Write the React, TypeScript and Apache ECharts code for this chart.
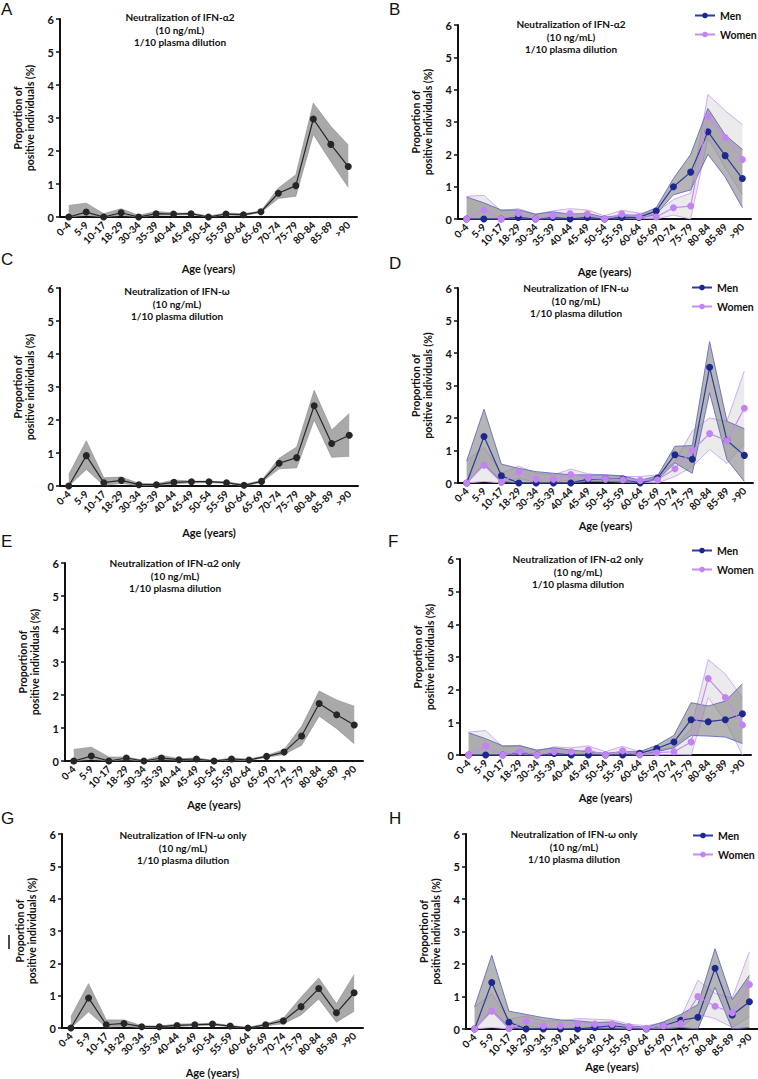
import React, { useEffect, useRef } from "react";
import * as echarts from "echarts";

const categories = ["0-4", "5-9", "10-17", "18-29", "30-34", "35-39", "40-44", "45-49", "50-54", "55-59", "60-64", "65-69", "70-74", "75-79", "80-84", "85-89", ">90"];
const yTicks = [0, 1, 2, 3, 4, 5, 6];

// Panel A
const aMean = [0, 0.15, 0, 0.13, 0, 0.1, 0.09, 0.1, 0, 0.09, 0.07, 0.16, 0.72, 0.95, 2.97, 2.2, 1.53];
const aUpper = [0.35, 0.42, 0.1, 0.25, 0.05, 0.17, 0.12, 0.12, 0.03, 0.12, 0.1, 0.18, 0.88, 1.28, 3.45, 2.75, 2.18];
const aLower = [0, 0.05, 0, 0.05, 0, 0.05, 0.06, 0.07, 0, 0.06, 0.04, 0.14, 0.56, 0.63, 2.5, 1.68, 0.9];

// Panel B
const bMen = [0, 0, 0, 0.05, 0, 0.05, 0, 0.05, 0, 0.05, 0.05, 0.25, 1.0, 1.45, 2.7, 1.96, 1.25];
const bMenUpper = [0.68, 0.5, 0.28, 0.28, 0.15, 0.22, 0.15, 0.18, 0.05, 0.12, 0.12, 0.35, 1.25, 2.0, 3.42, 2.6, 2.15];
const bMenLower = [0, 0, 0, 0, 0, 0, 0, 0, 0, 0, 0, 0.15, 0.75, 0.9, 2.0, 1.3, 0.35];
const bWomen = [0, 0.28, 0, 0.17, 0, 0.1, 0.17, 0.15, 0, 0.15, 0.07, 0.06, 0.35, 0.4, 3.17, 2.52, 1.84];
const bWomenUpper = [0.7, 0.73, 0.25, 0.32, 0.15, 0.25, 0.32, 0.28, 0.1, 0.27, 0.18, 0.2, 0.6, 0.8, 3.85, 3.35, 2.92];
const bWomenLower = [0, 0.02, 0, 0.05, 0, 0.02, 0.05, 0.05, 0, 0.05, 0.02, 0, 0.12, 0, 2.5, 1.6, 0.75];

// Panel C
const cMean = [0, 0.92, 0.1, 0.17, 0.04, 0.04, 0.11, 0.13, 0.13, 0.1, 0.02, 0.14, 0.69, 0.86, 2.43, 1.29, 1.54];
const cUpper = [0.35, 1.37, 0.25, 0.27, 0.08, 0.07, 0.18, 0.15, 0.15, 0.12, 0.05, 0.17, 0.84, 1.18, 2.9, 1.7, 2.2];
const cLower = [0, 0.5, 0.02, 0.08, 0.01, 0.02, 0.06, 0.1, 0.1, 0.08, 0, 0.11, 0.52, 0.55, 2.0, 0.87, 0.9];

// Panel D
const dMen = [0, 1.43, 0.22, 0, 0, 0, 0, 0.12, 0.12, 0.12, 0, 0.15, 0.87, 0.73, 3.56, 1.31, 0.85];
const dMenUpper = [0.68, 2.27, 0.58, 0.45, 0.35, 0.3, 0.25, 0.25, 0.25, 0.22, 0.08, 0.22, 1.13, 1.15, 4.35, 1.9, 1.67];
const dMenLower = [0, 0.58, 0.05, 0, 0, 0, 0, 0.05, 0.05, 0.05, 0, 0.1, 0.62, 0.3, 2.78, 0.72, 0.05];
const dWomen = [0, 0.55, 0.02, 0.34, 0.12, 0.12, 0.26, 0.15, 0.12, 0.1, 0.08, 0.1, 0.44, 1.0, 1.52, 1.3, 2.3];
const dWomenUpper = [0.68, 1.1, 0.3, 0.52, 0.3, 0.25, 0.43, 0.28, 0.25, 0.2, 0.2, 0.25, 0.65, 1.6, 2.0, 1.9, 3.45];
const dWomenLower = [0, 0.05, 0, 0.15, 0.02, 0.02, 0.1, 0.05, 0.05, 0.03, 0.02, 0, 0.2, 0.5, 1.03, 0.6, 1.2];

// Panel E
const eMean = [0, 0.15, 0, 0.09, 0, 0.09, 0.04, 0.06, 0, 0.06, 0.03, 0.14, 0.27, 0.76, 1.74, 1.4, 1.09];
const eUpper = [0.35, 0.42, 0.12, 0.12, 0.02, 0.17, 0.07, 0.09, 0.02, 0.09, 0.06, 0.17, 0.35, 1.05, 2.12, 1.85, 1.66];
const eLower = [0, 0.05, 0, 0.04, 0, 0.04, 0.02, 0.03, 0, 0.03, 0.01, 0.11, 0.2, 0.48, 1.36, 0.98, 0.52];

// Panel F
const fMen = [0, 0, 0, 0.08, 0, 0.05, 0, 0, 0, 0, 0.05, 0.2, 0.4, 1.08, 1.02, 1.08, 1.26];
const fMenUpper = [0.68, 0.5, 0.28, 0.28, 0.15, 0.22, 0.15, 0.1, 0.05, 0.1, 0.1, 0.3, 0.6, 1.6, 1.5, 1.65, 2.18];
const fMenLower = [0, 0, 0, 0, 0, 0, 0, 0, 0, 0, 0, 0.1, 0.22, 0.6, 0.58, 0.55, 0.35];
const fWomen = [0, 0.28, 0, 0.1, 0, 0.1, 0.1, 0.15, 0, 0.13, 0, 0.07, 0.1, 0.4, 2.34, 1.76, 0.92];
const fWomenUpper = [0.7, 0.75, 0.25, 0.3, 0.12, 0.25, 0.22, 0.28, 0.1, 0.27, 0.1, 0.15, 0.25, 0.8, 2.92, 2.48, 1.75];
const fWomenLower = [0, 0.02, 0, 0.02, 0, 0.02, 0.02, 0.05, 0, 0.03, 0, 0, 0.02, 0, 1.75, 1.05, 0];

// Panel G
const gMean = [0, 0.93, 0.1, 0.14, 0.04, 0.04, 0.08, 0.1, 0.12, 0.06, 0, 0.1, 0.22, 0.66, 1.22, 0.47, 1.09];
const gUpper = [0.35, 1.37, 0.25, 0.25, 0.07, 0.06, 0.12, 0.13, 0.15, 0.08, 0.02, 0.13, 0.3, 0.95, 1.55, 0.75, 1.65];
const gLower = [0, 0.5, 0.02, 0.06, 0.01, 0.02, 0.05, 0.07, 0.09, 0.04, 0, 0.07, 0.13, 0.4, 0.9, 0.18, 0.52];

// Panel H
const hMen = [0, 1.43, 0.21, 0, 0, 0, 0, 0.05, 0.1, 0.05, 0, 0.1, 0.27, 0.36, 1.87, 0.43, 0.84];
const hMenUpper = [0.68, 2.27, 0.55, 0.45, 0.35, 0.28, 0.25, 0.2, 0.22, 0.1, 0.05, 0.22, 0.45, 0.75, 2.47, 0.9, 1.65];
const hMenLower = [0, 0.58, 0.05, 0, 0, 0, 0, 0, 0, 0, 0, 0, 0.05, 0, 1.28, 0, 0.05];
const hWomen = [0, 0.55, 0.01, 0.25, 0.1, 0.1, 0.17, 0.15, 0.15, 0.07, 0.02, 0.1, 0.17, 1.0, 0.7, 0.5, 1.37];
const hWomenUpper = [0.68, 1.08, 0.3, 0.4, 0.25, 0.25, 0.32, 0.3, 0.28, 0.15, 0.1, 0.2, 0.35, 1.5, 1.1, 0.95, 2.38];
const hWomenLower = [0, 0.05, 0, 0.1, 0.02, 0.02, 0.05, 0.05, 0.05, 0.02, 0, 0.02, 0.05, 0.45, 0.32, 0.05, 0.38];

const titleAlpha = "Neutralization of IFN-α2\n(10 ng/mL)\n1/10 plasma dilution";
const titleOmega = "Neutralization of IFN-ω\n(10 ng/mL)\n1/10 plasma dilution";
const titleAlphaOnly = "Neutralization of IFN-α2 only\n(10 ng/mL)\n1/10 plasma dilution";
const titleOmegaOnly = "Neutralization of IFN-ω only\n(10 ng/mL)\n1/10 plasma dilution";

const FONT = "Lato, 'Open Sans', sans-serif";
const INK = "#111111";
const MEN = "#1c2790";
const MEN_EDGE = "#5f6cc0";
const WOMEN = "#c283f3";
const WOMEN_EDGE = "#cfa2f5";

type Panel = {
  letter: string;
  grid: { left: number; top: number; width: number; height: number };
  title: string;
  titleX: number;
  titleY: number;
  letterX: number;
  letterY: number;
  xNameGap: number;
  single?: { mean: number[]; upper: number[]; lower: number[] };
  sex?: {
    men: number[]; menUpper: number[]; menLower: number[];
    women: number[]; womenUpper: number[]; womenLower: number[];
    legendX: number; legendY: number;
  };
};

const panels: Panel[] = [
  { letter: "A", grid: { left: 60, top: 19, width: 297, height: 198 }, title: titleAlpha, titleX: 180, titleY: 11, letterX: 1, letterY: 1, xNameGap: 46, single: { mean: aMean, upper: aUpper, lower: aLower } },
  { letter: "B", grid: { left: 458, top: 25, width: 293, height: 194 }, title: titleAlpha, titleX: 571, titleY: 18, letterX: 389, letterY: 1, xNameGap: 47, sex: { men: bMen, menUpper: bMenUpper, menLower: bMenLower, women: bWomen, womenUpper: bWomenUpper, womenLower: bWomenLower, legendX: 689, legendY: 5 } },
  { letter: "C", grid: { left: 60, top: 288, width: 298, height: 198 }, title: titleOmega, titleX: 177, titleY: 285, letterX: 1, letterY: 251, xNameGap: 41, single: { mean: cMean, upper: cUpper, lower: cLower } },
  { letter: "D", grid: { left: 458, top: 288, width: 295, height: 195 }, title: titleOmega, titleX: 576, titleY: 282, letterX: 389, letterY: 255, xNameGap: 37, sex: { men: dMen, menUpper: dMenUpper, menLower: dMenLower, women: dWomen, womenUpper: dWomenUpper, womenLower: dWomenLower, legendX: 686, legendY: 277 } },
  { letter: "E", grid: { left: 65, top: 563, width: 298, height: 198 }, title: titleAlphaOnly, titleX: 175, titleY: 557, letterX: 1, letterY: 533, xNameGap: 38, single: { mean: eMean, upper: eUpper, lower: eLower } },
  { letter: "F", grid: { left: 460, top: 559, width: 291, height: 196 }, title: titleAlphaOnly, titleX: 578, titleY: 553, letterX: 388, letterY: 533, xNameGap: 37, sex: { men: fMen, menUpper: fMenUpper, menLower: fMenLower, women: fWomen, womenUpper: fWomenUpper, womenLower: fWomenLower, legendX: 686, legendY: 540 } },
  { letter: "G", grid: { left: 62, top: 834, width: 301, height: 198 }, title: titleOmegaOnly, titleX: 183, titleY: 829, letterX: 1, letterY: 810, xNameGap: 39, single: { mean: gMean, upper: gUpper, lower: gLower } },
  { letter: "H", grid: { left: 466, top: 834, width: 292, height: 195 }, title: titleOmegaOnly, titleX: 574, titleY: 828, letterX: 389, letterY: 810, xNameGap: 28, sex: { men: hMen, menUpper: hMenUpper, menLower: hMenLower, women: hWomen, womenUpper: hWomenUpper, womenLower: hWomenLower, legendX: 687, legendY: 825 } },
];

function bandSeries(idx: number, key: string, lower: number[], upper: number[], fill: string, edge: string, edgeWidth: number, z: number) {
  const common = { type: "line", xAxisIndex: idx, yAxisIndex: idx, symbol: "none", silent: true };
  return [
    { ...common, name: key + "-lo-base", data: lower, stack: key, lineStyle: { opacity: 0 }, z },
    { ...common, name: key + "-fill", data: upper.map((u, i) => +(u - lower[i]).toFixed(4)), stack: key, lineStyle: { opacity: 0 }, areaStyle: { color: fill, opacity: 1 }, z },
    { ...common, name: key + "-up-edge", data: upper, lineStyle: { color: edge, width: edgeWidth }, z: z + 1 },
    { ...common, name: key + "-lo-edge", data: lower, lineStyle: { color: edge, width: edgeWidth }, z: z + 1 },
  ];
}

function meanSeries(idx: number, name: string, data: number[], color: string, lineColor: string, z: number) {
  return {
    type: "line", name, xAxisIndex: idx, yAxisIndex: idx, data,
    symbol: "circle", symbolSize: 7, showSymbol: true,
    itemStyle: { color },
    lineStyle: { color: lineColor, width: 1.2 },
    z,
  };
}

function buildOption() {
  const grids: any[] = [];
  const xAxes: any[] = [];
  const yAxes: any[] = [];
  const series: any[] = [];
  const legends: any[] = [];
  const graphics: any[] = [];

  panels.forEach((p, i) => {
    grids.push({ ...p.grid, containLabel: false });
    xAxes.push({
      gridIndex: i, type: "category", data: categories, boundaryGap: true,
      axisLine: { lineStyle: { color: INK, width: 2 } },
      axisTick: { alignWithLabel: true, length: 5, lineStyle: { color: INK, width: 1.5 } },
      axisLabel: { rotate: 45, interval: 0, fontSize: 10, fontWeight: "bold", color: INK, margin: 6, fontFamily: FONT },
      name: "Age (years)", nameLocation: "middle", nameGap: p.xNameGap,
      nameTextStyle: { fontSize: 11, fontWeight: "bold", color: INK, fontFamily: FONT },
    });
    yAxes.push({
      gridIndex: i, type: "value", min: yTicks[0], max: yTicks[yTicks.length - 1], interval: 1,
      splitLine: { show: false },
      axisLine: { show: true, lineStyle: { color: INK, width: 2 } },
      axisTick: { show: true, length: 4, lineStyle: { color: INK, width: 1.5 } },
      axisLabel: { fontSize: 11, fontWeight: "bold", color: INK, margin: 6, fontFamily: FONT },
      name: "Proportion of\npositive individuals (%)", nameLocation: "middle", nameGap: 24, nameRotate: 90,
      nameTextStyle: { fontSize: 10.5, fontWeight: "bold", color: INK, lineHeight: 12, fontFamily: FONT },
    });

    if (p.single) {
      series.push(...bandSeries(i, "band" + i, p.single.lower, p.single.upper, "#a9a9a9", "#8a8a8a", 0.6, 2));
      series.push(meanSeries(i, "mean" + i, p.single.mean, "#262626", "#262626", 5));
    } else if (p.sex) {
      const s = p.sex;
      series.push(...bandSeries(i, "wband" + i, s.womenLower, s.womenUpper, "rgba(225,225,225,0.65)", WOMEN_EDGE, 0.9, 1));
      series.push(...bandSeries(i, "mband" + i, s.menLower, s.menUpper, "rgba(135,135,135,0.62)", MEN_EDGE, 0.9, 3));
      series.push(meanSeries(i, "Men", s.men, MEN, "#2d3a9e", 6));
      series.push(meanSeries(i, "Women", s.women, WOMEN, "#c58cf3", 7));
      legends.push({
        data: ["Men", "Women"], orient: "vertical", left: s.legendX, top: s.legendY,
        itemWidth: 20, itemHeight: 7, itemGap: 8, selectedMode: false,
        textStyle: { fontSize: 10.5, fontWeight: "bold", color: INK, fontFamily: FONT },
      });
    }

    graphics.push({
      type: "text", x: p.titleX, y: p.titleY, silent: true,
      style: { text: p.title, textAlign: "center", textVerticalAlign: "top", fill: INK, font: `bold 10px ${FONT}`, lineHeight: 12.5 },
    });
    graphics.push({
      type: "text", x: p.letterX, y: p.letterY, silent: true,
      style: { text: p.letter, textAlign: "left", textVerticalAlign: "top", fill: INK, font: `17px 'Liberation Sans', Arial, sans-serif` },
    });
  });

  graphics.push({
    type: "line", silent: true,
    shape: { x1: 9, y1: 935, x2: 9, y2: 949 },
    style: { stroke: INK, lineWidth: 1.5 },
  });

  return {
    animation: false,
    backgroundColor: "#ffffff",
    grid: grids,
    xAxis: xAxes,
    yAxis: yAxes,
    series,
    legend: legends,
    graphic: graphics,
  };
}

export default function App() {
  const ref = useRef<HTMLDivElement>(null);
  useEffect(() => {
    if (!ref.current) return;
    const chart = echarts.init(ref.current, undefined, { renderer: "svg" });
    chart.setOption(buildOption() as any);
    return () => chart.dispose();
  }, []);
  return <div ref={ref} style={{ position: "absolute", left: 0, top: 0, width: 758, height: 1079, background: "#fff" }} />;
}
